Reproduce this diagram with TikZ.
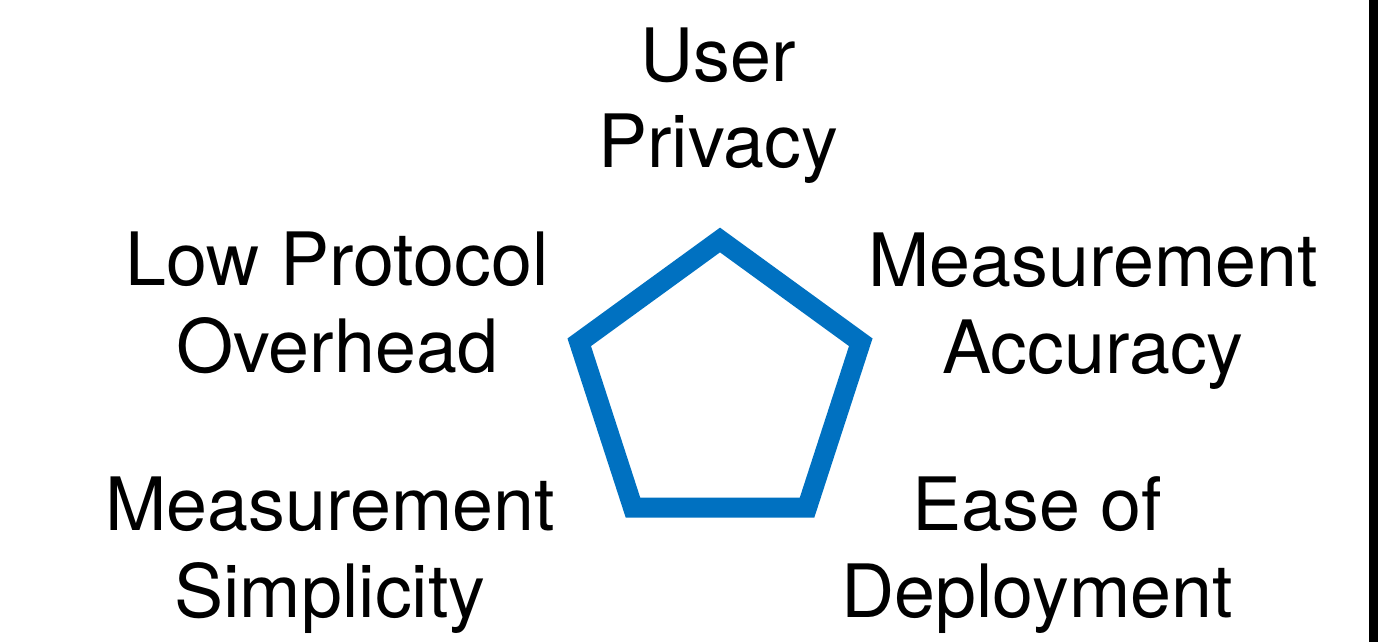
\documentclass[tikz,border=0pt]{standalone}
\usepackage{fontspec}
\setmainfont{TeX Gyre Heros}
\usetikzlibrary{shapes.geometric,positioning}
\definecolor{pentblue}{RGB}{0,113,193}
\tikzset{
	goal/.style={align=center, inner sep=0pt, anchor=base,
		font=\fontsize{36.8}{43.25}\selectfont},
	pentline/.style={draw=pentblue, line width=10pt, regular polygon,
		regular polygon sides=5, minimum size=148pt, inner sep=0pt, outer sep=0pt}
}
\begin{document}
\begin{tikzpicture}[x=0.5pt, y=-0.5pt]
  \useasboundingbox (0,0) rectangle (1378,642);
  \node[pentline] (pent) at (720,388) {};
  \fill (1369,0) rectangle (1378,642);
  % anchor=base sits on the last line
  \node[goal] (privacy)    at (718,168)  {User\\Privacy};
  \node[goal] (overhead)   at (337,372)  {Low Protocol\\Overhead};
  \node[goal] (accuracy)   at (1093,373) {Measurement\\Accuracy};
  \node[goal] (simplicity) at (330,617)  {Measurement\\Simplicity};
  \node[goal] (deployment) at (1037,617) {Ease of\\Deployment};
\end{tikzpicture}
\end{document}
